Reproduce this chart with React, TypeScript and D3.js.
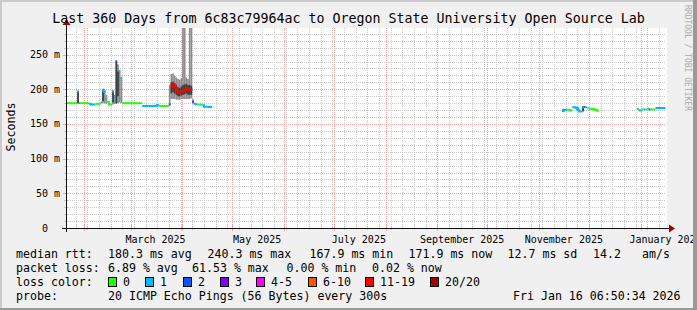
import React from "react";
import * as d3 from "d3";

const W = 697;
const H = 310;
const DAY = 86400000;

const TITLE = "Last 360 Days from 6c83c79964ac to Oregon State University Open Source Lab";
const timeStart = Date.UTC(2025, 0, 21, 6, 50, 34);
const timeEnd = Date.UTC(2026, 0, 16, 6, 50, 34);
const dayZero = Date.UTC(2025, 0, 21);

const yMax = 288.4; // ms (1.2 x max median)
const yLabelTicks = [0, 50, 100, 150, 200, 250];

// median rtt (ms) per day, and loss count (of 20 pings)
const seg1Offset = 0; // 2025-01-21
const seg1Median = [
  180, 180, 180, 180, 180, 180, 180, 197, 180, 180, 180, 180, 180, 180, 179, 178, 178, 178, 179, 179, 179, 181,
  199, 196, 186, 182, 178, 178, 197, 186, 240, 227, 216, 186,
  180, 180, 180, 180, 180, 180, 180, 180, 180, 180, 180, 180,
  176, 176, 176, 176, 176, 176, 176, 176, 176, 177.5, 176, 176, 176, 176, 176, 176, 178,
  204, 207, 205, 200, 196, 195, 197, 198, 199, 202, 200, 199, 199,
  182, 179, 178.5, 178, 178, 178, 177, 175, 175, 175, 174.5, 174.5,
];
const seg1Loss = [
  0, 0, 0, 0, 0, 0, 0, 1, 1, 0, 0, 0, 0, 0, 1, 1, 1, 1, 0, 0, 0, 1,
  1, 1, 1, 0, 0, 0, 1, 1, 2, 1, 1, 1,
  0, 0, 0, 0, 0, 0, 0, 0, 0, 0, 0, 0,
  1, 1, 1, 1, 1, 1, 1, 1, 1, 1, 0, 0, 0, 0, 0, 0, 2,
  12, 12, 12, 12, 12, 12, 12, 12, 12, 12, 12, 12, 12,
  3, 1, 1, 0, 0, 0, 1, 1, 1, 1, 1, 1,
];
const seg2Offset = 298; // 2025-11-15
const seg2Median = [169, 170, 170, 170.5, 170, 169.5, 174, 174, 173.5, 171, 168, 168, 174, 174.5, 174, 173, 172, 171.5, 171.5, 171, 170, 169];
const seg2Loss = [1, 1, 1, 0, 0, 0, 1, 1, 1, 1, 1, 1, 1, 2, 1, 0, 1, 0, 0, 0, 0, 0];
const seg3Offset = 343; // 2025-12-30
const seg3Median = [171.5, 169.5, 169.5, 171, 171, 171, 172, 171, 171, 171, 171, 173, 173, 173, 173, 173, 172.5];
const seg3Loss = [0, 1, 1, 0, 1, 0, 1, 2, 0, 0, 0, 1, 1, 1, 1, 1, 1];

// smoke: [day offset, low ms, high ms]
const smokeOuter: [number, number, number][] = [
  [7, 179, 198], [22, 180, 201], [23, 180, 199], [24, 179, 192], [28, 178, 199], [29, 179, 192],
  [30, 179, 242], [31, 180, 236], [32, 181, 228], [33, 180, 218],
  [62, 177, 206], [63, 186, 222], [64, 186, 223], [65, 186, 219], [66, 185, 217], [67, 185, 215],
  [68, 185, 214], [69, 186, 216], [70, 186, 400], [71, 186, 400], [72, 186, 217], [73, 186, 215],
  [74, 186, 400], [75, 187, 400], [76, 179, 186],
  [298, 167, 172], [307, 169, 174], [310, 167, 176], [343, 170, 173],
];
const smokeInner: [number, number, number][] = [
  [7, 180, 197], [22, 183, 198], [28, 181, 197], [30, 180, 240], [31, 190, 226],
  [63, 194, 210], [64, 196, 211], [65, 194, 209], [66, 192, 206], [67, 190, 203], [68, 190, 202],
  [69, 191, 204], [70, 192, 206], [71, 193, 207], [72, 194, 208], [73, 192, 206], [74, 192, 206], [75, 192, 205],
  [298, 168, 171], [310, 169, 175],
];

const lossLabels = ["0", "1", "2", "3", "4-5", "6-10", "11-19", "20/20"];
const lossColors = ["#26ff00", "#00b8ff", "#0059ff", "#7e00ff", "#ff00ff", "#ff5500", "#ff0000", "#a10000"];
const lossBoxX = [108, 145, 183, 220, 256, 308, 365, 430];

const rttLabel = "median rtt:";
const rttItems = ["180.3 ms avg", "240.3 ms max", "167.9 ms min", "171.9 ms now", "12.7 ms sd", "14.2", "am/s"];
const rttX = [108, 207.5, 309.5, 408.5, 507.5, 593, 642];
const lossLabel = "packet loss:";
const lossItems = ["6.89 % avg", "61.53 % max", "0.00 % min", "0.02 % now"];
const lossItemX = [108, 192, 286.5, 372];
const probeLabel = "probe:";
const probeText = "20 ICMP Echo Pings (56 Bytes) every 300s";
const stampText = "Fri Jan 16 06:50:34 2026";

function lossIndex(n: number): number {
  if (n <= 3) return n;
  if (n <= 5) return 4;
  if (n <= 10) return 5;
  if (n <= 19) return 6;
  return 7;
}

const MONO = "DejaVu Sans Mono";
const MINOR = "#c9c9c9";
const MAJOR = "#f4a4a4";

export default function App() {
  const L = 66, R = 666, T = 28, B = 228;
  const x = d3.scaleUtc().domain([timeStart, timeEnd]).range([L, R]);
  const y = d3.scaleLinear().domain([0, yMax]).range([B, T]);
  const dx = (d: number) => x(dayZero + d * DAY);

  const months = d3.utcMonth.range(new Date(timeStart), new Date(timeEnd));
  const weeks = d3.utcMonday.range(new Date(timeStart), new Date(timeEnd));
  const labelMonths = months.filter((m) => m.getUTCMonth() % 2 === 0 && !(m.getUTCMonth() === 0 && m.getUTCFullYear() === 2025));
  const fmt = d3.utcFormat("%B %Y");
  const yIdx = d3.range(1, Math.floor(yMax / 10) + 1);
  const minorY = yIdx.filter((i) => i % 5 !== 0).map((i) => i * 10);
  const majorY = yIdx.filter((i) => i % 5 === 0).map((i) => i * 10);

  const segs = [
    { off: seg1Offset, med: seg1Median, loss: seg1Loss },
    { off: seg2Offset, med: seg2Median, loss: seg2Loss },
    { off: seg3Offset, med: seg3Median, loss: seg3Loss },
  ];
  const runs: { color: string; d: string }[] = [];
  segs.forEach((s) => {
    let cur: { color: string; d: string } | null = null;
    let prevIdx = -1;
    let prevY = 0;
    s.med.forEach((m, i) => {
      const ci = lossIndex(s.loss[i]);
      const x0 = dx(s.off + i), x1 = dx(s.off + i + 1);
      const yy = y(m);
      if (cur && prevIdx === ci && Math.abs(yy - prevY) <= 4) {
        cur.d += `V${yy}H${x1}`;
      } else {
        cur = { color: lossColors[ci], d: `M${x0},${yy}H${x1}` };
        runs.push(cur);
      }
      prevIdx = ci;
      prevY = yy;
    });
  });

  const cx = (v: number) => Math.round(v) + 0.5;

  return (
    <svg width={W} height={H} style={{ display: "block", position: "absolute", left: 0, top: 0 }} fontFamily={MONO}>
      <defs>
        <clipPath id="plot">
          <rect x={L} y={T} width={R - L} height={B - T} />
        </clipPath>
      </defs>
      <rect x={0} y={0} width={W} height={H} fill="#f0f0f0" />
      <rect x={L} y={T} width={R - L + 1} height={B - T} fill="#ffffff" />

      {/* minor grid */}
      <g stroke={MINOR} strokeDasharray="1,1" shapeRendering="crispEdges">
        {minorY.map((v) => (
          <line key={"my" + v} x1={L} x2={R} y1={cx(y(v))} y2={cx(y(v))} />
        ))}
        {weeks.map((w) => (
          <line key={"mx" + +w} x1={cx(x(w))} x2={cx(x(w))} y1={T} y2={B} />
        ))}
      </g>
      {/* major grid */}
      <g stroke={MAJOR} strokeDasharray="1,1" shapeRendering="crispEdges">
        {majorY.map((v) => (
          <line key={"My" + v} x1={L} x2={R} y1={cx(y(v))} y2={cx(y(v))} />
        ))}
        {months.map((m) => (
          <line key={"Mx" + +m} x1={cx(x(m))} x2={cx(x(m))} y1={T} y2={B} />
        ))}
      </g>
      {/* ticks */}
      <g shapeRendering="crispEdges">
        {minorY.map((v) => (
          <line key={"ty" + v} x1={L - 2} x2={L + 2} y1={cx(y(v))} y2={cx(y(v))} stroke={MINOR} />
        ))}
        {majorY.map((v) => (
          <line key={"tY" + v} x1={L - 3} x2={L + 3} y1={cx(y(v))} y2={cx(y(v))} stroke={MAJOR} />
        ))}
        {weeks.map((w) => (
          <line key={"tx" + +w} x1={cx(x(w))} x2={cx(x(w))} y1={B - 2} y2={B + 2} stroke={MINOR} />
        ))}
        {months.map((m) => (
          <line key={"tX" + +m} x1={cx(x(m))} x2={cx(x(m))} y1={B - 3} y2={B + 3} stroke={MAJOR} />
        ))}
      </g>

      {/* smoke & median */}
      <g clipPath="url(#plot)">
        {smokeOuter.map(([d, lo, hi]) => (
          <rect key={"so" + d} x={dx(d)} width={dx(d + 1) - dx(d)} y={y(Math.min(hi, yMax + 10))} height={y(lo) - y(Math.min(hi, yMax + 10))} fill="#8c8c8c" />
        ))}
        {smokeInner.map(([d, lo, hi]) => (
          <rect key={"si" + d} x={dx(d)} width={dx(d + 1) - dx(d)} y={y(hi)} height={y(lo) - y(hi)} fill="#3c3c3c" />
        ))}
        {runs.map((r, i) => (
          <path key={"r" + i} d={r.d} fill="none" stroke={r.color} strokeWidth={2} />
        ))}
      </g>

      {/* axes */}
      <g stroke="#101010" shapeRendering="crispEdges">
        <line x1={L - 4} x2={R + 4} y1={B + 0.5} y2={B + 0.5} />
        <line x1={L + 0.5} x2={L + 0.5} y1={B + 4} y2={T - 4} />
      </g>
      <path d={`M${R + 3},${B - 3.5}L${R + 9},${B + 0.5}L${R + 3},${B + 4.5}Z`} fill="#a00000" />
      <path d={`M${L - 3.5},${T - 3}L${L + 0.5},${T - 9}L${L + 4.5},${T - 3}Z`} fill="#a00000" />

      {/* title */}
      <text x={W / 2} y={23} textAnchor="middle" fontSize={13.3} fill="#000">{TITLE}</text>

      {/* y labels */}
      {yLabelTicks.map((v) => (
        <text key={"yl" + v} x={v === 0 ? 48 : 60} y={y(v) + 3.5} textAnchor="end" fontSize={10} fill="#000">
          {v === 0 ? "0" : `${v} m`}
        </text>
      ))}
      <text transform="translate(15,127) rotate(-90)" textAnchor="middle" fontSize={11.6} fill="#000">Seconds</text>

      {/* x labels */}
      {labelMonths.map((m) => (
        <text key={"xl" + +m} x={x(+m + 15 * DAY)} y={243} textAnchor="middle" fontSize={10} fill="#000">
          {fmt(m)}
        </text>
      ))}

      {/* watermark */}
      <text transform="translate(685,5) rotate(90)" fontSize={8} fill="#aaaaaa">RRDTOOL / TOBI OETIKER</text>

      {/* legend */}
      <g fontSize={11.6} fill="#000" style={{ whiteSpace: "pre" }}>
        <text x={16} y={258}>{rttLabel}</text>
        {rttItems.map((t, i) => (
          <text key={"rt" + i} x={rttX[i]} y={258}>{t}</text>
        ))}
        <text x={16} y={271.5}>{lossLabel}</text>
        {lossItems.map((t, i) => (
          <text key={"li" + i} x={lossItemX[i]} y={271.5}>{t}</text>
        ))}
        <text x={16} y={285.5}>loss color:</text>
        {lossLabels.map((t, i) => (
          <g key={"lc" + i}>
            <rect x={lossBoxX[i] + 0.5} y={277.5} width={8} height={9} fill={lossColors[i]} stroke="#000" strokeWidth={1} shapeRendering="crispEdges" />
            <text x={lossBoxX[i] + 15} y={285.5}>{t}</text>
          </g>
        ))}
        <text x={16} y={300}>{probeLabel}</text>
        <text x={108} y={300}>{probeText}</text>
        <text x={513} y={300}>{stampText}</text>
      </g>

      {/* frame */}
      <g shapeRendering="crispEdges">
        <line x1={0} y1={1} x2={W} y2={1} stroke="#cbcbcb" strokeWidth={2} />
        <line x1={1} y1={0} x2={1} y2={H} stroke="#cbcbcb" strokeWidth={2} />
        <line x1={0} y1={H - 1} x2={W} y2={H - 1} stroke="#999999" strokeWidth={2} />
        <line x1={W - 2} y1={0} x2={W - 2} y2={H} stroke="#999999" strokeWidth={4} />
      </g>
    </svg>
  );
}
